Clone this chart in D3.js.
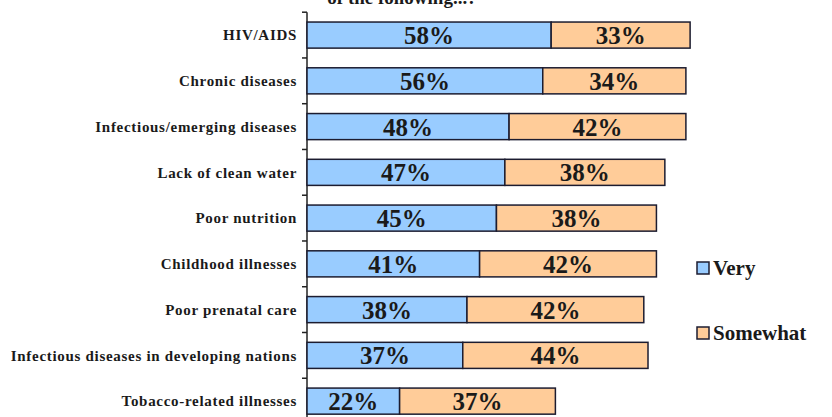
<!DOCTYPE html>
<html>
<head>
<meta charset="utf-8">
<script src="https://cdn.jsdelivr.net/npm/d3@7"></script>
<style>
  body { margin: 0; background: #fff; }
  text { font-family: "Liberation Serif", "Times New Roman", serif; font-weight: bold; fill: #1a1a1a; }
</style>
</head>
<body>
<div id="chart"></div>
<script>
const categories = [
  'HIV/AIDS',
  'Chronic diseases',
  'Infectious/emerging diseases',
  'Lack of clean water',
  'Poor nutrition',
  'Childhood illnesses',
  'Poor prenatal care',
  'Infectious diseases in developing nations',
  'Tobacco-related illnesses',
];
const very = [58, 56, 48, 47, 45, 41, 38, 37, 22];
const somewhat = [33, 34, 42, 38, 38, 42, 42, 44, 37];
const seriesNames = ['Very', 'Somewhat'];

const width = 832;
const height = 417;
const colors = ['#99ccff', '#ffcc99'];

const svg = d3.select('#chart').append('svg')
  .attr('width', width)
  .attr('height', height);

// title, cut off at the top like the original
svg.append('text')
  .attr('x', 402)
  .attr('y', 4)
  .attr('text-anchor', 'middle')
  .style('font-size', '19px')
  .text('of the following...?');

const x = d3.scaleLinear().domain([0, 100]).range([307, 728]);
const y = d3.scaleBand()
  .domain(categories)
  .range([12.2, 424])
  .paddingInner(0.43)
  .paddingOuter(0.215);

const rows = categories.map((c, i) => ({ name: c, very: very[i], somewhat: somewhat[i] }));
const stack = d3.stack().keys(['very', 'somewhat'])(rows);

// axis line and ticks between categories
const step = y.step();
const axisTop = y(categories[0]) - (step - y.bandwidth()) / 2;
svg.append('line')
  .attr('x1', x(0)).attr('x2', x(0))
  .attr('y1', axisTop).attr('y2', height)
  .attr('stroke', '#222').attr('stroke-width', 1.5);
d3.range(categories.length + 1).forEach((i) => {
  svg.append('line')
    .attr('x1', x(0) - 5).attr('x2', x(0))
    .attr('y1', axisTop + i * step).attr('y2', axisTop + i * step)
    .attr('stroke', '#222').attr('stroke-width', 1.5);
});

const layers = svg.selectAll('.layer')
  .data(stack)
  .enter().append('g')
  .attr('class', 'layer')
  .attr('fill', (d, i) => colors[i]);

layers.selectAll('rect')
  .data(d => d)
  .enter().append('rect')
  .attr('x', d => x(d[0]))
  .attr('y', d => y(d.data.name))
  .attr('width', d => x(d[1]) - x(d[0]))
  .attr('height', y.bandwidth())
  .attr('stroke', '#1c1c30')
  .attr('stroke-width', 1.5);

layers.selectAll('text')
  .data(d => d)
  .enter().append('text')
  .attr('x', d => (x(d[0]) + x(d[1])) / 2)
  .attr('y', d => y(d.data.name) + y.bandwidth() / 2)
  .attr('dy', '0.36em')
  .attr('text-anchor', 'middle')
  .style('font-size', '25px')
  .text(d => `${d[1] - d[0]}%`);

// category labels
svg.selectAll('.cat')
  .data(categories)
  .enter().append('text')
  .attr('class', 'cat')
  .attr('x', 297)
  .attr('y', d => y(d) + y.bandwidth() / 2)
  .attr('dy', '0.35em')
  .attr('text-anchor', 'end')
  .style('font-size', '15px')
  .style('letter-spacing', '0.7px')
  .text(d => d);

// legend
const legend = svg.selectAll('.legend')
  .data(seriesNames)
  .enter().append('g')
  .attr('class', 'legend')
  .attr('transform', (d, i) => `translate(697,${268 + i * 65})`);

legend.append('rect')
  .attr('x', 0)
  .attr('y', -6)
  .attr('width', 12)
  .attr('height', 12)
  .attr('fill', (d, i) => colors[i])
  .attr('stroke', '#1c1c30')
  .attr('stroke-width', 1.5);

legend.append('text')
  .attr('x', 16)
  .attr('y', 0)
  .attr('dy', '0.35em')
  .style('font-size', '21px')
  .text(d => d);
</script>
</body>
</html>
